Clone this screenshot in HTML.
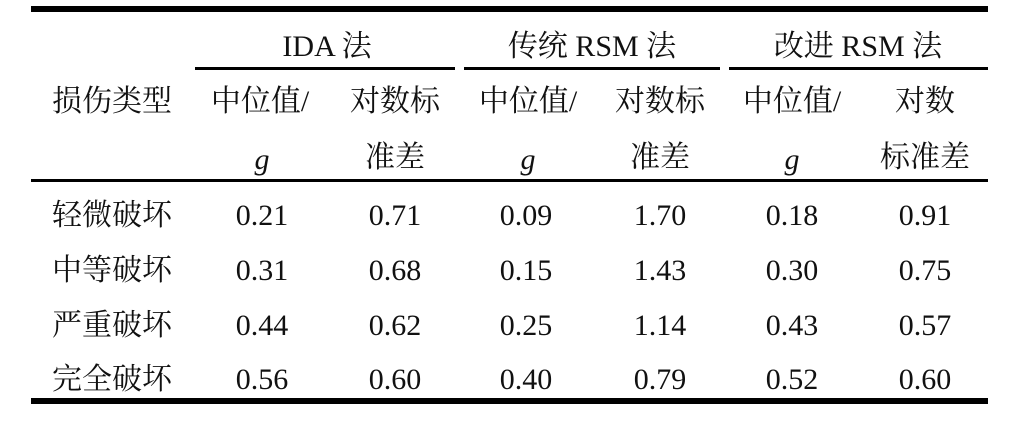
<!DOCTYPE html>
<html><head><meta charset="utf-8"><style>
body{margin:0;width:1015px;height:429px;background:#fff;position:relative;overflow:hidden;font-family:"Liberation Serif","Noto Serif CJK SC","Noto Sans CJK SC",serif;color:#111}
.l{position:absolute;background:#000}
.t{position:absolute;font-size:30px;line-height:30px;transform:translate(-50%,-50%);white-space:nowrap}
i{font-style:italic}
</style></head><body>
<div class="l" style="left:31px;top:6px;width:957px;height:6px"></div>
<div class="l" style="left:195px;top:67px;width:260px;height:3px"></div>
<div class="l" style="left:464px;top:67px;width:256px;height:3px"></div>
<div class="l" style="left:729px;top:67px;width:259px;height:3px"></div>
<div class="l" style="left:31px;top:179px;width:957px;height:3px"></div>
<div class="l" style="left:31px;top:398px;width:957px;height:6px"></div>

<div class="t" style="left:327px;top:47px">IDA 法</div>
<div class="t" style="left:592px;top:47px">传统 RSM 法</div>
<div class="t" style="left:858px;top:47px">改进 RSM 法</div>

<div class="t" style="left:112px;top:102px">损伤类型</div>
<div class="t" style="left:260px;top:102px">中位值/</div>
<div class="t" style="left:395px;top:102px">对数标</div>
<div class="t" style="left:528px;top:102px">中位值/</div>
<div class="t" style="left:660px;top:102px">对数标</div>
<div class="t" style="left:792px;top:102px">中位值/</div>
<div class="t" style="left:925px;top:102px">对数</div>
<div class="t" style="left:262px;top:160px"><i>g</i></div>
<div class="t" style="left:395px;top:158px">准差</div>
<div class="t" style="left:528px;top:160px"><i>g</i></div>
<div class="t" style="left:660px;top:158px">准差</div>
<div class="t" style="left:792px;top:160px"><i>g</i></div>
<div class="t" style="left:925px;top:158px">标准差</div>

<div class="t" style="left:112px;top:216px">轻微破坏</div>
<div class="t" style="left:112px;top:271px">中等破坏</div>
<div class="t" style="left:112px;top:326px">严重破坏</div>
<div class="t" style="left:112px;top:380px">完全破坏</div>

<div class="t" style="left:262px;top:216px">0.21</div><div class="t" style="left:395px;top:216px">0.71</div><div class="t" style="left:526px;top:216px">0.09</div><div class="t" style="left:660px;top:216px">1.70</div><div class="t" style="left:792px;top:216px">0.18</div><div class="t" style="left:925px;top:216px">0.91</div>
<div class="t" style="left:262px;top:271px">0.31</div><div class="t" style="left:395px;top:271px">0.68</div><div class="t" style="left:526px;top:271px">0.15</div><div class="t" style="left:660px;top:271px">1.43</div><div class="t" style="left:792px;top:271px">0.30</div><div class="t" style="left:925px;top:271px">0.75</div>
<div class="t" style="left:262px;top:326px">0.44</div><div class="t" style="left:395px;top:326px">0.62</div><div class="t" style="left:526px;top:326px">0.25</div><div class="t" style="left:660px;top:326px">1.14</div><div class="t" style="left:792px;top:326px">0.43</div><div class="t" style="left:925px;top:326px">0.57</div>
<div class="t" style="left:262px;top:380px">0.56</div><div class="t" style="left:395px;top:380px">0.60</div><div class="t" style="left:526px;top:380px">0.40</div><div class="t" style="left:660px;top:380px">0.79</div><div class="t" style="left:792px;top:380px">0.52</div><div class="t" style="left:925px;top:380px">0.60</div>
</body></html>
